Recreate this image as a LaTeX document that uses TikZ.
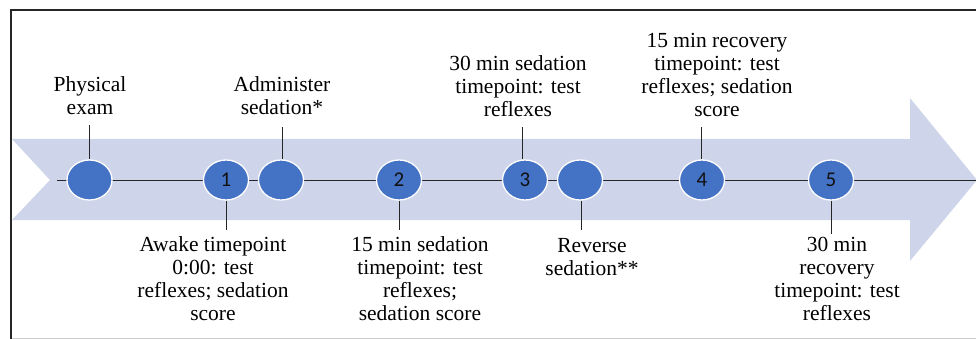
\documentclass[tikz,border=0pt]{standalone}
\usepackage{fontspec}
\setmainfont{Liberation Serif}
\newfontfamily\numfont{Carlito}
\usetikzlibrary{shapes.geometric}
\definecolor{band}{HTML}{CED5EA}
\definecolor{dot}{HTML}{4472C4}
\definecolor{numc}{HTML}{111111}
\begin{document}
\begin{tikzpicture}[x=1pt,y=-1pt,
  lbl/.style={font=\fontsize{21.5}{23}\selectfont, align=center, inner sep=0pt, anchor=base},
  dotnode/.style={ellipse, minimum width=45pt, minimum height=40pt, inner sep=0pt, fill=dot, draw=white, line width=1.3pt, font=\numfont\fontsize{21}{21}\selectfont, text=numc},
  stem/.style={draw=black!85, line width=0.8pt},
  axis/.style={draw=black!85, line width=0.9pt}]
\useasboundingbox (0,0) rectangle (976,339);
% frame
\draw[black!85, line width=2pt] (11,339) -- (11,10) -- (976,10);
\draw[black!20, line width=1pt] (12,338) -- (976,338);
% band arrow
\fill[band] (12,139) -- (910,139) -- (910,98) -- (977,180) -- (910,261) -- (910,220) -- (12,220) -- (50,180) -- cycle;
% axis
\coordinate (axL) at (57,180);
\coordinate (axR) at (976,180);
\draw[axis] (axL) -- (axR);
% dots
\node[dotnode] (pe) at (89.5,180) {};
\node[dotnode] (d1) at (226,180) {1};
\node[dotnode] (ad) at (281,180) {};
\node[dotnode] (d2) at (399,180) {2};
\node[dotnode] (d3) at (525,180) {3};
\node[dotnode] (rv) at (580,180) {};
\node[dotnode] (d4) at (702,180) {4};
\node[dotnode] (d5) at (831,180) {5};
% labels (base = baseline of last line)
\node[lbl] (lpe) at (90,115) {Physical\\exam};
\node[lbl] (lad) at (282,115) {Administer\\sedation*};
\node[lbl] (l3) at (518,117) {30 min sedation\\timepoint: test\\reflexes};
\node[lbl] (l4) at (717,117) {15 min recovery\\timepoint: test\\reflexes; sedation\\score};
\node[lbl] (l1) at (213,320) {Awake timepoint\\0:00: test\\reflexes; sedation\\score};
\node[lbl] (l2) at (420,320) {15 min sedation\\timepoint: test\\reflexes;\\sedation score};
\node[lbl] (lrv) at (592,275) {Reverse\\sedation**};
\node[lbl] (l5) at (837,320) {30 min\\recovery\\timepoint: test\\reflexes};
% stems
\coordinate (tpe) at (89.5,125);
\coordinate (tad) at (282,127);
\coordinate (t3) at (522,127);
\coordinate (t4) at (701,127);
\coordinate (b1) at (226,230);
\coordinate (b2) at (399,230);
\coordinate (brv) at (581,230);
\coordinate (b5) at (831,234);
\draw[stem] (tpe) -- (pe.north);
\draw[stem] (tad) -- (ad.north -| tad);
\draw[stem] (t3) -- (d3.north -| t3);
\draw[stem] (t4) -- (d4.north -| t4);
\draw[stem] (d1.south) -- (b1);
\draw[stem] (d2.south) -- (b2);
\draw[stem] (rv.south -| brv) -- (brv);
\draw[stem] (d5.south) -- (b5);
\end{tikzpicture}
\end{document}
